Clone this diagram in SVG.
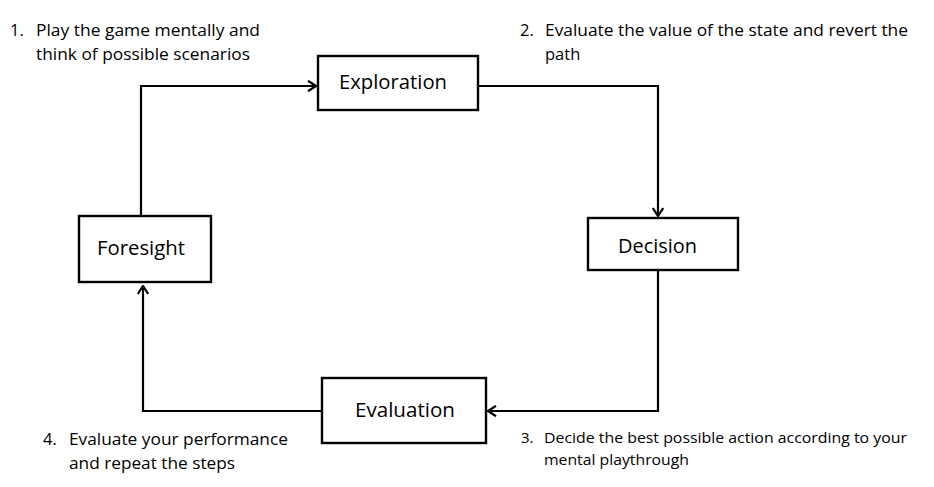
<svg xmlns="http://www.w3.org/2000/svg" width="934" height="487" viewBox="0 0 934 487">
<defs>
<style>
.box{fill:#fff;stroke:#000;stroke-width:2.4}
.lbl{font-family:"Open Sans","Liberation Sans",sans-serif;font-size:20px;fill:#000}
.note{font-family:"Open Sans","Liberation Sans",sans-serif;font-size:16.5px;fill:#000}
.note3{font-family:"Open Sans","Liberation Sans",sans-serif;font-size:15px;fill:#000}
.conn{fill:none;stroke:#000;stroke-width:2.2;marker-end:url(#arr)}
</style>
<marker id="arr" viewBox="0 0 10 12" refX="9" refY="6" markerWidth="10" markerHeight="12" markerUnits="userSpaceOnUse" orient="auto">
<path d="M1,0.8 L9,6 L1,11.2" fill="none" stroke="#000" stroke-width="2.2"/>
</marker>
</defs>
<rect width="934" height="487" fill="#fff"/>
<g id="connectors">
<path class="conn" d="M141,216 V86 H316"/>
<path class="conn" d="M478,86 H658 V216"/>
<path class="conn" d="M658,270 V411 H488"/>
<path class="conn" d="M322,411 H143 V286"/>
</g>
<g id="exploration">
<rect class="box" x="318" y="56" width="160" height="54"/>
<text class="lbl" x="339" y="89" textLength="108" lengthAdjust="spacingAndGlyphs">Exploration</text>
</g>
<g id="decision">
<rect class="box" x="588" y="218" width="150" height="52"/>
<text class="lbl" x="618" y="253" textLength="79" lengthAdjust="spacingAndGlyphs">Decision</text>
</g>
<g id="foresight">
<rect class="box" x="79" y="216" width="132" height="66"/>
<text class="lbl" x="97" y="255" textLength="88" lengthAdjust="spacingAndGlyphs">Foresight</text>
</g>
<g id="evaluation">
<rect class="box" x="322" y="378" width="164" height="65"/>
<text class="lbl" x="355" y="417" textLength="100" lengthAdjust="spacingAndGlyphs">Evaluation</text>
</g>
<g id="note1">
<text class="note" x="10" y="36">1.</text>
<text class="note" x="36" y="36" textLength="224" lengthAdjust="spacingAndGlyphs">Play the game mentally and</text>
<text class="note" x="36" y="60" textLength="214" lengthAdjust="spacingAndGlyphs">think of possible scenarios</text>
</g>
<g id="note2">
<text class="note" x="520" y="36">2.</text>
<text class="note" x="545" y="36" textLength="363" lengthAdjust="spacingAndGlyphs">Evaluate the value of the state and revert the</text>
<text class="note" x="545" y="60">path</text>
</g>
<g id="note3">
<text class="note3" x="521" y="443">3.</text>
<text class="note3" x="544" y="443" textLength="363" lengthAdjust="spacingAndGlyphs">Decide the best possible action according to your</text>
<text class="note3" x="544" y="465" textLength="145" lengthAdjust="spacingAndGlyphs">mental playthrough</text>
</g>
<g id="note4">
<text class="note" x="43" y="445">4.</text>
<text class="note" x="69" y="445" textLength="219" lengthAdjust="spacingAndGlyphs">Evaluate your performance</text>
<text class="note" x="69" y="469" textLength="166" lengthAdjust="spacingAndGlyphs">and repeat the steps</text>
</g>
</svg>
